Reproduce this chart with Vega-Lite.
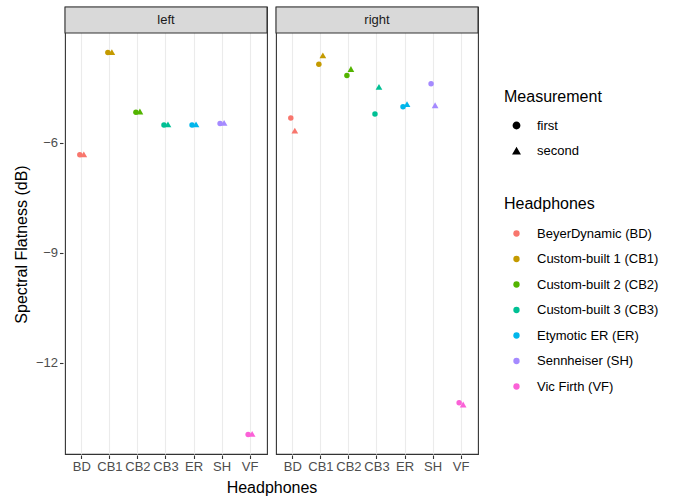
{
  "$schema": "https://vega.github.io/schema/vega-lite/v6.json",
  "padding": {"left": 13, "top": 5, "right": 5, "bottom": 3},
  "background": "white",
  "config": {
    "font": "Liberation Sans",
    "view": {"stroke": "#333333", "strokeWidth": 1.1},
    "axis": {"labelFont": "Liberation Sans", "labelFontSize": 13, "labelColor": "#4D4D4D", "titleFont": "Liberation Sans", "titleFontSize": 16, "titleFontWeight": "normal", "titleColor": "#000000", "tickColor": "#333333", "tickSize": 3.5, "tickWidth": 1.1, "domain": false, "gridColor": "#EBEBEB", "labelPadding": 2},
    "legend": {"labelFont": "Liberation Sans", "labelFontSize": 13, "labelColor": "#000000", "titleFont": "Liberation Sans", "titleFontSize": 16, "titleFontWeight": "normal", "titleColor": "#000000"}
  },
  "data": {"values": [
    {"ear": "left", "code": "BD", "name": "BeyerDynamic (BD)", "Measurement": "first", "value": -6.33},
    {"ear": "left", "code": "BD", "name": "BeyerDynamic (BD)", "Measurement": "second", "value": -6.32},
    {"ear": "left", "code": "CB1", "name": "Custom-built 1 (CB1)", "Measurement": "first", "value": -3.54},
    {"ear": "left", "code": "CB1", "name": "Custom-built 1 (CB1)", "Measurement": "second", "value": -3.53},
    {"ear": "left", "code": "CB2", "name": "Custom-built 2 (CB2)", "Measurement": "first", "value": -5.17},
    {"ear": "left", "code": "CB2", "name": "Custom-built 2 (CB2)", "Measurement": "second", "value": -5.15},
    {"ear": "left", "code": "CB3", "name": "Custom-built 3 (CB3)", "Measurement": "first", "value": -5.52},
    {"ear": "left", "code": "CB3", "name": "Custom-built 3 (CB3)", "Measurement": "second", "value": -5.50},
    {"ear": "left", "code": "ER", "name": "Etymotic ER (ER)", "Measurement": "first", "value": -5.52},
    {"ear": "left", "code": "ER", "name": "Etymotic ER (ER)", "Measurement": "second", "value": -5.50},
    {"ear": "left", "code": "SH", "name": "Sennheiser (SH)", "Measurement": "first", "value": -5.48},
    {"ear": "left", "code": "SH", "name": "Sennheiser (SH)", "Measurement": "second", "value": -5.46},
    {"ear": "left", "code": "VF", "name": "Vic Firth (VF)", "Measurement": "first", "value": -13.96},
    {"ear": "left", "code": "VF", "name": "Vic Firth (VF)", "Measurement": "second", "value": -13.94},
    {"ear": "right", "code": "BD", "name": "BeyerDynamic (BD)", "Measurement": "first", "value": -5.33},
    {"ear": "right", "code": "BD", "name": "BeyerDynamic (BD)", "Measurement": "second", "value": -5.67},
    {"ear": "right", "code": "CB1", "name": "Custom-built 1 (CB1)", "Measurement": "first", "value": -3.86},
    {"ear": "right", "code": "CB1", "name": "Custom-built 1 (CB1)", "Measurement": "second", "value": -3.62},
    {"ear": "right", "code": "CB2", "name": "Custom-built 2 (CB2)", "Measurement": "first", "value": -4.17},
    {"ear": "right", "code": "CB2", "name": "Custom-built 2 (CB2)", "Measurement": "second", "value": -3.99},
    {"ear": "right", "code": "CB3", "name": "Custom-built 3 (CB3)", "Measurement": "first", "value": -5.22},
    {"ear": "right", "code": "CB3", "name": "Custom-built 3 (CB3)", "Measurement": "second", "value": -4.48},
    {"ear": "right", "code": "ER", "name": "Etymotic ER (ER)", "Measurement": "first", "value": -5.02},
    {"ear": "right", "code": "ER", "name": "Etymotic ER (ER)", "Measurement": "second", "value": -4.95},
    {"ear": "right", "code": "SH", "name": "Sennheiser (SH)", "Measurement": "first", "value": -4.39},
    {"ear": "right", "code": "SH", "name": "Sennheiser (SH)", "Measurement": "second", "value": -4.98},
    {"ear": "right", "code": "VF", "name": "Vic Firth (VF)", "Measurement": "first", "value": -13.09},
    {"ear": "right", "code": "VF", "name": "Vic Firth (VF)", "Measurement": "second", "value": -13.14}
  ]},
  "facet": {"column": {"field": "ear", "type": "nominal", "sort": ["left", "right"], "title": "Headphones",
    "header": {"labels": false, "titleOrient": "bottom", "titleFont": "Liberation Sans", "titleFontSize": 16, "titleFontWeight": "normal", "titleColor": "#000000", "titlePadding": -4}}},
  "spacing": 5,
  "spec": {
    "width": 202,
    "height": 447,
    "layer": [
      {
        "transform": [{"aggregate": [{"op": "count", "as": "n"}], "groupby": ["ear"]}],
        "mark": {"type": "rect", "fill": "#D9D9D9", "stroke": "#333333", "strokeWidth": 1.1},
        "encoding": {"y": {"datum": -2.3}, "y2": {"datum": -3.01}}
      },
      {
        "transform": [{"aggregate": [{"op": "count", "as": "n"}], "groupby": ["ear"]}],
        "mark": {"type": "text", "fontSize": 13, "color": "#1A1A1A", "font": "Liberation Sans"},
        "encoding": {"y": {"datum": -2.655}, "text": {"field": "ear", "type": "nominal"}}
      },
      {
        "mark": {"type": "point", "filled": true, "opacity": 1},
        "encoding": {
          "x": {"field": "code", "type": "nominal", "sort": ["BD", "CB1", "CB2", "CB3", "ER", "SH", "VF"],
                "scale": {"type": "band", "paddingInner": 0, "paddingOuter": 0.1},
                "axis": {"title": null, "labelAngle": 0, "bandPosition": 0.5, "grid": true, "gridWidth": 1.1}},
          "xOffset": {"field": "Measurement", "type": "nominal", "sort": ["first", "second"], "scale": {"type": "point", "range": [12, 16], "padding": 0}},
          "y": {"field": "value", "type": "quantitative",
                "scale": {"domain": [-14.49, -2.3], "nice": false, "zero": false},
                "axis": {"title": "Spectral Flatness (dB)", "values": [-13.5, -12, -10.5, -9, -7.5, -6, -4.5],
                         "labelExpr": "datum.value % 3 === 0 ? datum.label : ''",
                         "tickOpacity": {"condition": {"test": "datum.value % 3 !== 0", "value": 0}, "value": 1},
                         "gridWidth": {"condition": {"test": "datum.value % 3 !== 0", "value": 0.55}, "value": 1.1},
                         "titlePadding": 6, "titleY": 237}},
          "color": {"field": "name", "type": "nominal",
                    "scale": {"domain": ["BeyerDynamic (BD)", "Custom-built 1 (CB1)", "Custom-built 2 (CB2)", "Custom-built 3 (CB3)", "Etymotic ER (ER)", "Sennheiser (SH)", "Vic Firth (VF)"],
                              "range": ["#F8766D", "#C49A00", "#53B400", "#00C094", "#00B6EB", "#A58AFF", "#FB61D7"]},
                    "legend": {"title": "Headphones", "orient": "none", "legendX": 439, "legendY": 189, "symbolType": "circle", "symbolSize": 40, "rowPadding": 11.5, "titlePadding": 15, "symbolOffset": 6, "labelOffset": 14}},
          "shape": {"field": "Measurement", "type": "nominal",
                    "scale": {"domain": ["first", "second"], "range": ["circle", "triangle-up"]},
                    "legend": {"title": "Measurement", "orient": "none", "legendX": 439, "legendY": 82, "symbolFillColor": "#000000", "symbolStrokeColor": "#000000", "symbolSize": 40, "rowPadding": 11.5, "titlePadding": 14, "symbolOffset": 6, "labelOffset": 14}},
          "size": {"condition": {"test": "datum.Measurement === 'second'", "value": 45}, "value": 30}
        }
      }
    ]
  }
}
